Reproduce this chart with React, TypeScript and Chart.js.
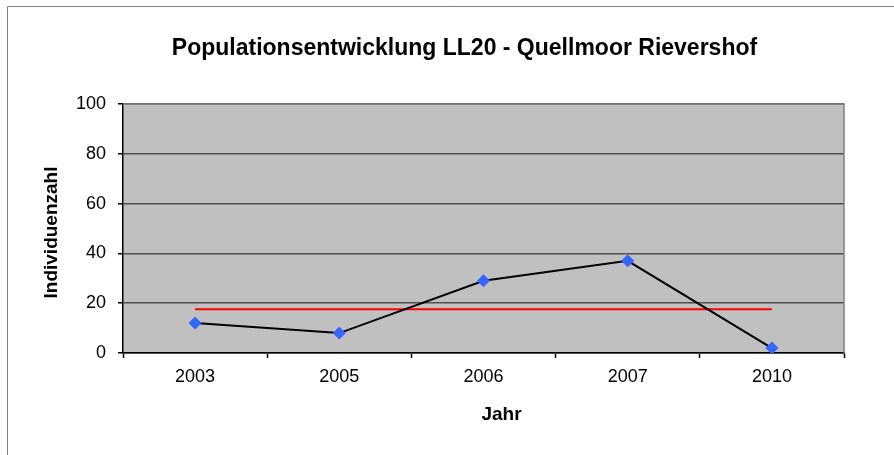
import React, { useEffect, useRef } from "react";
import { Chart, registerables } from "chart.js";

Chart.register(...registerables);

const categories = ["2003", "2005", "2006", "2007", "2010"];
const individuals = [12, 8, 29, 37, 2];
const meanValue = [17.6, 17.6, 17.6, 17.6, 17.6];
const yTicks = [0, 20, 40, 60, 80, 100];

const chartTitle = "Populationsentwicklung LL20 - Quellmoor Rievershof";
const xTitle = "Jahr";
const yTitle = "Individuenzahl";

const FONT = "'Liberation Sans', Arial, sans-serif";

const decorPlugin = {
  id: "decor",
  beforeDraw(chart: any) {
    const { ctx, chartArea } = chart;
    ctx.save();
    ctx.fillStyle = "#ffffff";
    ctx.fillRect(0, 0, chart.width, chart.height);
    // outer frame
    ctx.strokeStyle = "#808080";
    ctx.lineWidth = 1;
    ctx.beginPath();
    ctx.moveTo(7.5, chart.height + 5);
    ctx.lineTo(7.5, 6.5);
    ctx.lineTo(chart.width + 5, 6.5);
    ctx.stroke();
    // plot area
    ctx.fillStyle = "#C0C0C0";
    ctx.fillRect(chartArea.left, chartArea.top, chartArea.right - chartArea.left, chartArea.bottom - chartArea.top);
    ctx.restore();
  },
  beforeDatasetsDraw(chart: any) {
    const { ctx, chartArea } = chart;
    ctx.save();
    ctx.strokeStyle = "#808080";
    ctx.lineWidth = 1.5;
    ctx.beginPath();
    ctx.moveTo(chartArea.left, chartArea.top);
    ctx.lineTo(chartArea.right, chartArea.top);
    ctx.lineTo(chartArea.right, chartArea.bottom);
    ctx.stroke();
    ctx.restore();
  },
  afterDraw(chart: any) {
    const { ctx } = chart;
    ctx.save();
    ctx.fillStyle = "#000000";
    ctx.textAlign = "center";
    ctx.textBaseline = "alphabetic";
    ctx.font = `bold 23px ${FONT}`;
    ctx.fillText(chartTitle, 464.5, 54.5);
    ctx.font = `bold 19px ${FONT}`;
    ctx.fillText(xTitle, 501.5, 420);
    ctx.translate(56.5, 232.5);
    ctx.rotate(-Math.PI / 2);
    ctx.fillText(yTitle, 0, 0);
    ctx.restore();
  },
};

export default function App() {
  const ref = useRef<HTMLCanvasElement | null>(null);
  useEffect(() => {
    if (!ref.current) return;
    const chart = new Chart(ref.current, {
      type: "line",
      data: {
        labels: categories,
        datasets: [
          {
            label: "Individuenzahl",
            data: individuals,
            borderColor: "#000000",
            borderWidth: 2,
            pointStyle: "rectRot",
            pointRadius: 6,
            pointBorderWidth: 1,
            pointBackgroundColor: "#3366FF",
            pointBorderColor: "#3366FF",
            tension: 0,
          },
          {
            label: "Mittelwert",
            data: meanValue,
            borderColor: "#FF0000",
            borderWidth: 2,
            pointRadius: 0,
            tension: 0,
          },
        ],
      },
      options: {
        responsive: false,
        animation: false,
        devicePixelRatio: 1,
        layout: { padding: { top: 104, right: 50, bottom: 0, left: 0 } },
        plugins: {
          legend: { display: false },
          title: { display: false },
          tooltip: { enabled: false },
        },
        scales: {
          x: {
            type: "category",
            offset: true,
            afterFit: (scale: any) => {
              scale.height = 102;
            },
            grid: {
              offset: true,
              drawOnChartArea: false,
              drawTicks: true,
              tickLength: 5,
              tickColor: "#000000",
              tickWidth: 1.5,
            },
            border: { color: "#000000", width: 1.5 },
            ticks: {
              color: "#000000",
              font: { family: FONT, size: 18 },
              padding: 8,
              maxRotation: 0,
            },
          },
          y: {
            min: 0,
            max: 100,
            afterFit: (scale: any) => {
              scale.width = 123;
            },
            afterBuildTicks: (scale: any) => {
              scale.ticks = yTicks.map((v) => ({ value: v }));
            },
            grid: {
              color: "#505050",
              lineWidth: 1.5,
              tickLength: 5,
              tickColor: "#000000",
              tickWidth: 1.5,
            },
            border: { color: "#000000", width: 1.5 },
            ticks: {
              color: "#000000",
              font: { family: FONT, size: 18 },
              padding: 12,
            },
          },
        },
      },
      plugins: [decorPlugin],
    });
    return () => chart.destroy();
  }, []);
  return (
    <div style={{ position: "fixed", left: 0, top: 0, width: 894, height: 455 }}>
      <canvas ref={ref} width={894} height={455} style={{ display: "block" }} />
    </div>
  );
}
